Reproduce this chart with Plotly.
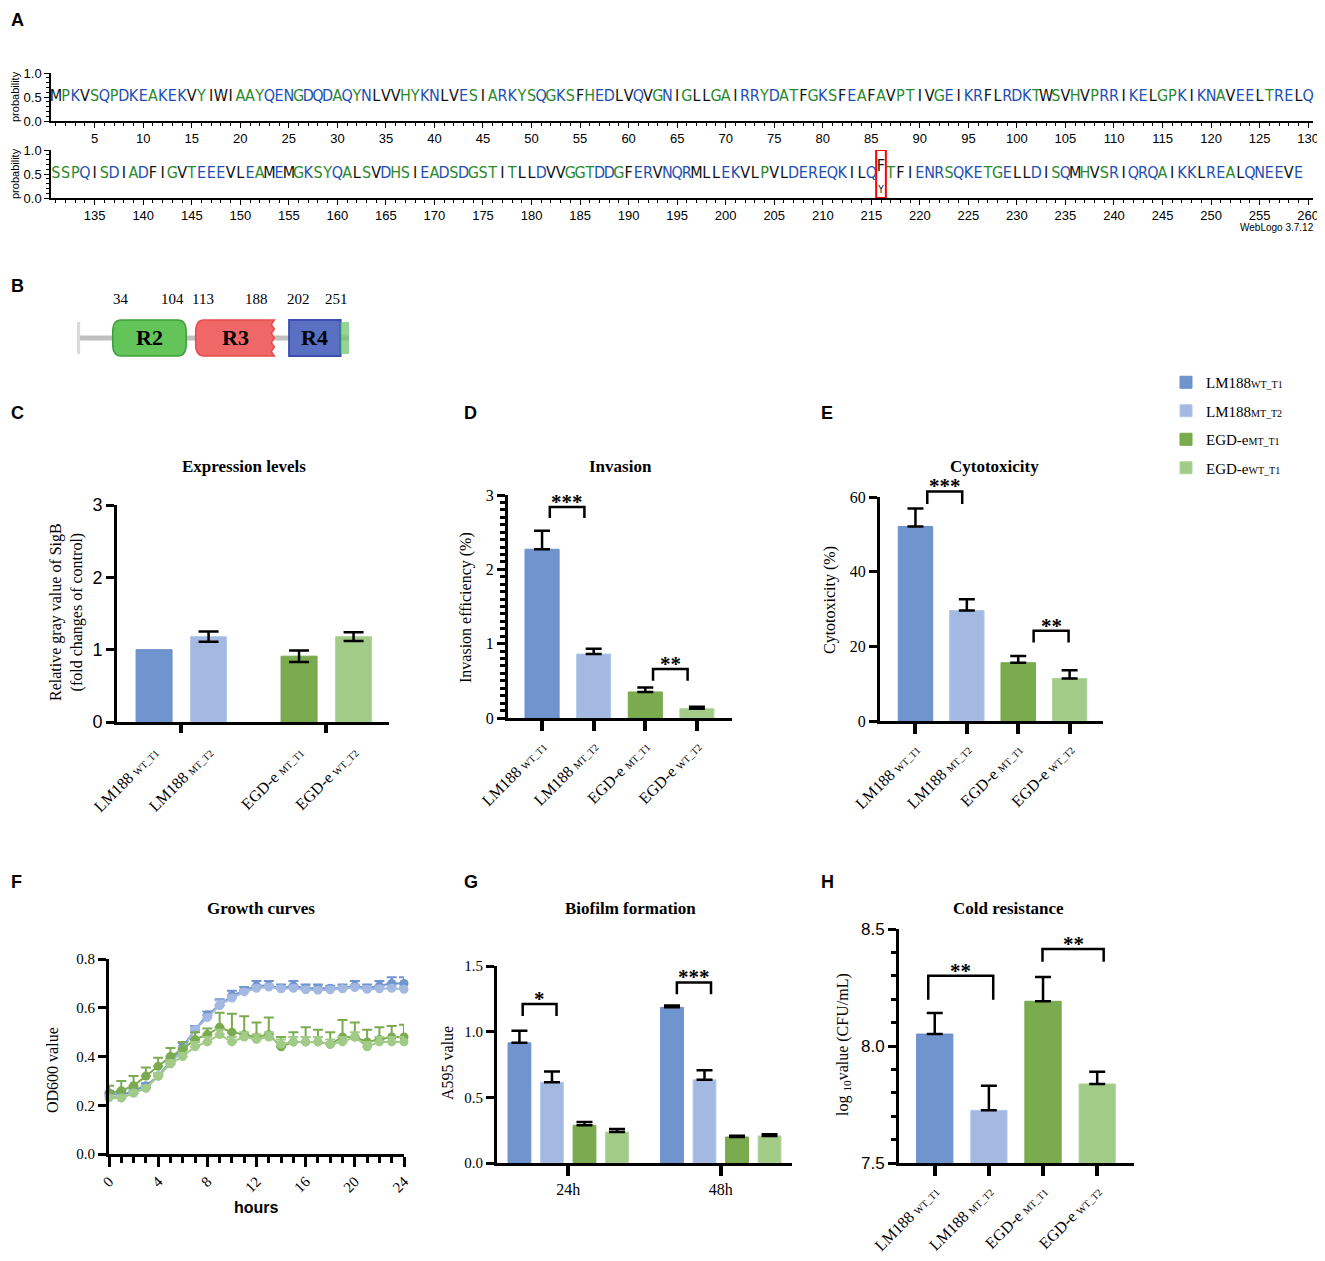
import plotly.graph_objects as go

# the page body adds an 8px margin, so the figure is laid out in reference pixels minus OFF
REF_W, REF_H, OFF = 1325, 1261, 8
W, H = REF_W - OFF, REF_H - OFF
SERIF = "Liberation Serif, Times New Roman, serif"
SANS = "Liberation Sans, Arial, sans-serif"
NARROW = "Liberation Sans Narrow, DejaVu Sans Condensed, Arial Narrow, sans-serif"

# ---------------- data ----------------
seq_row1 = ("MPKVSQPDKEAKEKVYIWIAAYQENGDQDAQYNLVVHYKNLVESIARKYSQGKSFHEDLV"
            "QVGNIGLLGAIRRYDATFGKSFEAFAVPTIVGEIKRFLRDKTWSVHVPRRIKELGPKIKN"
            "AVEELTRELQ")
seq_row2 = ("SSPQISDIADFIGVTEEEVLEAMEMGKSYQALSVDHSIEADSDGSTITLLDVVGGTDDGF"
            "ERVNQRMLLEKVLPVLDEREQKILQFTFIENRSQKETGELLDISQMHVSRIQRQAIKKLR"
            "EALQNEEVE")
variant_pos = 216
variant_letters = ["F", "Y"]
variant_probs = [0.7, 0.3]

domain_names = ["R2", "R3", "R4"]
domain_start = [34, 113, 202]
domain_end = [104, 188, 251]
protein_len = 259

strains = ["LM188", "LM188", "EGD-e", "EGD-e"]
strain_tags = ["WT_T1", "MT_T2", "MT_T1", "WT_T2"]
legend_tags = ["WT_T1", "MT_T2", "MT_T1", "WT_T1"]

expr_mean = [1.00, 1.18, 0.91, 1.18]
expr_err = [None, 0.07, 0.08, 0.06]

inv_mean = [2.27, 0.86, 0.35, 0.125]
inv_err = [0.25, 0.07, 0.06, 0.025]
inv_sig = [(0, 1, "***"), (2, 3, "**")]

cyto_mean = [52.1, 29.6, 15.6, 11.4]
cyto_err = [4.8, 3.0, 1.8, 2.2]
cyto_sig = [(0, 1, "***"), (2, 3, "**")]

hours = list(range(25))
od_lm_wt = [0.25, 0.24, 0.26, 0.28, 0.32, 0.38, 0.44, 0.51, 0.57, 0.61, 0.65, 0.67, 0.69,
            0.69, 0.68, 0.69, 0.68, 0.68, 0.68, 0.68, 0.69, 0.68, 0.69, 0.70, 0.70]
od_lm_wt_err = [0.01, 0.01, 0.01, 0.01, 0.01, 0.01, 0.015, 0.015, 0.015, 0.025, 0.02, 0.015, 0.02,
                0.02, 0.015, 0.02, 0.015, 0.015, 0.01, 0.015, 0.02, 0.015, 0.02, 0.025, 0.025]
od_lm_mt = [0.24, 0.23, 0.25, 0.27, 0.32, 0.37, 0.43, 0.51, 0.56, 0.61, 0.64, 0.665, 0.68,
            0.685, 0.678, 0.68, 0.674, 0.672, 0.674, 0.678, 0.683, 0.676, 0.678, 0.68, 0.676]
od_lm_mt_err = [0.01, 0.01, 0.01, 0.01, 0.01, 0.01, 0.01, 0.01, 0.01, 0.02, 0.01, 0.01, 0.01,
                0.01, 0.01, 0.01, 0.01, 0.01, 0.01, 0.01, 0.01, 0.01, 0.01, 0.01, 0.01]
od_egd_mt = [0.25, 0.26, 0.28, 0.32, 0.36, 0.40, 0.43, 0.47, 0.49, 0.52, 0.50, 0.49, 0.48,
             0.49, 0.44, 0.46, 0.46, 0.46, 0.45, 0.48, 0.48, 0.46, 0.47, 0.48, 0.48]
od_egd_mt_err = [0.03, 0.04, 0.04, 0.035, 0.035, 0.035, 0.03, 0.03, 0.025, 0.06, 0.075, 0.075, 0.06,
                 0.07, 0.04, 0.04, 0.06, 0.05, 0.05, 0.07, 0.06, 0.05, 0.05, 0.045, 0.05]
od_egd_wt = [0.23, 0.23, 0.25, 0.27, 0.32, 0.37, 0.40, 0.44, 0.46, 0.49, 0.46, 0.48, 0.47,
             0.48, 0.45, 0.46, 0.46, 0.46, 0.45, 0.46, 0.48, 0.44, 0.46, 0.46, 0.46]
od_egd_wt_err = [0.01, 0.01, 0.01, 0.01, 0.01, 0.015, 0.015, 0.02, 0.02, 0.02, 0.02, 0.02, 0.02,
                 0.02, 0.02, 0.02, 0.02, 0.02, 0.02, 0.02, 0.02, 0.02, 0.02, 0.02, 0.02]

bio_times = ["24h", "48h"]
bio_24h_mean = [0.915, 0.615, 0.287, 0.236]
bio_24h_err = [0.092, 0.082, 0.026, 0.023]
bio_48h_mean = [1.185, 0.633, 0.198, 0.206]
bio_48h_err = [0.015, 0.074, 0.010, 0.013]
bio_sig = [(0, 1, "*"), (4, 5, "***")]

cold_mean = [8.051, 7.725, 8.191, 7.838]
cold_err = [0.09, 0.105, 0.104, 0.052]
cold_sig = [(0, 1, "**"), (2, 3, "**")]

# ---------------- style ----------------
colors = ["#7094cd", "#a3b9e1", "#7aab4f", "#a1cb87"]
edge = ["#6a8fcb", "#b3c7ea", "#74a64a", "#b0d69a"]
aa_black, aa_green = set("ILFMWV"), set("GSTAPHY")


def aa_colour(a):
    if a in aa_black:
        return "#111111"
    return "#2a8a2a" if a in aa_green else "#1f4fb4"


def px(x):
    return (x - OFF) / W


def py(y):
    return 1 - (y - OFF) / H


def xd(a, b):
    return [px(a), px(b)]


def yd(top, bottom):
    return [py(bottom), py(top)]


def axis(**kw):
    base = dict(showline=True, linewidth=3, linecolor="black", ticks="outside", tickwidth=3,
                ticklen=8, tickcolor="black", showgrid=False, zeroline=False, automargin=False,
                tickfont=dict(family=SERIF, size=16, color="black"))
    base.update(kw)
    return base


def tag(name, t, space=" "):
    return f"{name}{space}<span style='font-size:10px'>{t}</span>"


def label(text, x, y, size, family, angle=0, xanchor="center", color="black"):
    return dict(text=text, x=px(x), y=py(y), xref="paper", yref="paper", xanchor=xanchor,
                yanchor="middle", textangle=angle, showarrow=False,
                font=dict(family=family, size=size, color=color))


# pixel boxes and ranges of the bar panels, used to place brackets outside the clip area
panels = {
    5: dict(x=(508, 732), xr=(-0.66, 3.68), y=(495, 718), yr=(0, 3)),
    6: dict(x=(880, 1103), xr=(-0.69, 3.65), y=(497, 721), yr=(0, 60)),
    8: dict(x=(497, 792), xr=(-0.69, 8.38), y=(966, 1163), yr=(0, 1.5)),
    9: dict(x=(899, 1134), xr=(-0.66, 3.68), y=(929, 1163), yr=(7.5, 8.5)),
}


def to_paper(n, xv, yv):
    p = panels[n]
    xp = p["x"][0] + (xv - p["xr"][0]) / (p["xr"][1] - p["xr"][0]) * (p["x"][1] - p["x"][0])
    yp = p["y"][1] - (yv - p["yr"][0]) / (p["yr"][1] - p["yr"][0]) * (p["y"][1] - p["y"][0])
    return px(xp), py(yp)


fig = go.Figure()
annotations = []
shapes = []

# ---------------- A: sequence logo ----------------
rows = [(seq_row1, 1, "x", "y"), (seq_row2, 131, "x2", "y2")]
for seq, start, xa, ya in rows:
    pos = [start + i for i in range(len(seq)) if start + i != variant_pos]
    let = [seq[i] for i in range(len(seq)) if start + i != variant_pos]
    fig.add_trace(go.Scatter(
        x=pos, y=[0.5] * len(pos), text=let, mode="text", xaxis=xa, yaxis=ya,
        textfont=dict(family=NARROW, size=16, color=[aa_colour(a) for a in let]),
        showlegend=False, hoverinfo="skip", cliponaxis=False))

stack_y, base = [], 0.0
for p in variant_probs[::-1]:
    stack_y.append(base + p / 2)
    base += p
fig.add_trace(go.Scatter(
    x=[variant_pos] * 2, y=stack_y[::-1], text=variant_letters, mode="text",
    xaxis="x2", yaxis="y2",
    textfont=dict(family=NARROW, size=[16, 10], color="#111111"),
    showlegend=False, hoverinfo="skip", cliponaxis=False))
shapes.append(dict(type="rect", xref="x2", yref="y2", x0=variant_pos - 0.5, x1=variant_pos + 0.5,
                   y0=0, y1=1.0, line=dict(color="red", width=2)))

logo_axis = dict(showline=True, linewidth=1.5, linecolor="black", ticks="outside", tickwidth=1.2,
                 ticklen=5, tickcolor="black", showgrid=False, zeroline=False, automargin=False,
                 tickfont=dict(family=SANS, size=13, color="black"))
logo_minor_x = dict(dtick=1, tick0=0, ticks="outside", ticklen=3, tickwidth=1, tickcolor="black")
logo_minor_y = dict(dtick=0.1, ticks="outside", ticklen=3, tickwidth=1, tickcolor="black")
fig.update_layout(
    xaxis=dict(logo_axis, domain=xd(51, 1313), range=[0.5, 130.5], anchor="y",
               tickvals=list(range(5, 131, 5)), minor=logo_minor_x),
    yaxis=dict(logo_axis, domain=yd(73, 121), range=[0, 1], anchor="x",
               tickvals=[0, 0.5, 1], tickformat=".1f", minor=logo_minor_y),
    xaxis2=dict(logo_axis, domain=xd(51, 1313), range=[130.5, 260.5], anchor="y2",
                tickvals=list(range(135, 261, 5)), minor=logo_minor_x),
    yaxis2=dict(logo_axis, domain=yd(150, 198), range=[0, 1], anchor="x2",
                tickvals=[0, 0.5, 1], tickformat=".1f", minor=logo_minor_y),
)
for yc in (97, 174):
    annotations.append(label("probability", 15, yc, 11, SANS, angle=-90))
annotations.append(label("WebLogo 3.7.12", 1316, 227, 10, SANS, xanchor="right"))

# ---------------- B: domain diagram ----------------
fig.add_trace(go.Scatter(x=[1, protein_len], y=[0.5, 0.5], mode="lines", xaxis="x10", yaxis="y10",
                         line=dict(color="#bfbfbf", width=5), showlegend=False, hoverinfo="skip"))


def box_path(x0, x1, y0, y1, rx, ry, torn=False):
    p = f"M {x0 + rx},{y0} "
    if not torn:
        p += (f"L {x1 - rx},{y0} Q {x1},{y0} {x1},{y0 + ry} L {x1},{y1 - ry} "
              f"Q {x1},{y1} {x1 - rx},{y1} ")
    else:
        p += f"L {x1},{y0} "
        n = 8
        for k in range(1, n + 1):
            yy = y0 + (y1 - y0) * k / n
            xx = x1 - 3 if k % 2 else x1
            p += f"L {xx},{yy} "
    p += f"L {x0 + rx},{y1} Q {x0},{y1} {x0},{y1 - ry} L {x0},{y0 + ry} Q {x0},{y0} {x0 + rx},{y0} Z"
    return p


b_x0, b_scale = 77, 1.05     # reference pixel of residue 0, pixels per residue
num_shift = [(8, -14), (7, -18), (9, -4)]   # pixel nudges of the start / end numbers
box_style = [("#63c45a", "#3f9f3a"), ("#f06767", "#e84b4b"), ("#5a70c2", "#3a4fb0")]
shapes.append(dict(type="rect", xref="x10", yref="y10", x0=0, x1=3, y0=0.1, y1=0.9,
                   fillcolor="#d9d9d9", line=dict(width=0)))
for i, nm in enumerate(domain_names):
    fill, line = box_style[i]
    if nm == "R4":
        shapes.append(dict(type="rect", xref="x10", yref="y10", x0=domain_start[i], x1=domain_end[i],
                           y0=0.05, y1=0.95, fillcolor=fill, line=dict(color=line, width=2)))
    else:
        shapes.append(dict(type="path", xref="x10", yref="y10",
                           path=box_path(domain_start[i], domain_end[i], 0.05, 0.95, 8, 0.3,
                                         torn=(nm == "R3")),
                           fillcolor=fill, line=dict(color=line, width=1.5)))
    annotations.append(dict(text=f"<b>{nm}</b>", x=(domain_start[i] + domain_end[i]) / 2, y=0.5,
                            xref="x10", yref="y10", xanchor="center", yanchor="middle",
                            showarrow=False, font=dict(family=SERIF, size=22, color="black")))
    for val, sh in zip((domain_start[i], domain_end[i]), num_shift[i]):
        annotations.append(label(str(val), b_x0 + b_scale * val + sh, 299, 15, SERIF))
shapes.append(dict(type="rect", xref="x10", yref="y10", x0=domain_end[-1], x1=protein_len,
                   y0=0.1, y1=0.9, fillcolor="rgba(110,200,110,0.75)", line=dict(width=0)))
fig.update_layout(
    xaxis10=dict(domain=xd(b_x0, b_x0 + b_scale * 270), range=[0, 270], visible=False,
                 anchor="y10", automargin=False),
    yaxis10=dict(domain=yd(318, 358), range=[0, 1], visible=False, anchor="x10", automargin=False),
)

# ---------------- C: expression ----------------
c_pos = [0, 1, 2.66, 3.66]
for i in range(4):
    err = None
    if expr_err[i] is not None:
        err = dict(type="data", array=[expr_err[i]], symmetric=True, color="black",
                   thickness=2.5, width=10)
    fig.add_trace(go.Bar(
        x=[c_pos[i]], y=[expr_mean[i]], width=0.66, xaxis="x3", yaxis="y3",
        marker=dict(color=colors[i], line=dict(color=edge[i], width=1)),
        error_y=err, name=tag(strains[i], legend_tags[i], ""), legendgroup=f"g{i}",
        showlegend=True))
fig.add_trace(go.Scatter(x=[], y=[], xaxis="x4", yaxis="y3", showlegend=False, hoverinfo="skip"))
group_centres = [(c_pos[0] + c_pos[1]) / 2, (c_pos[2] + c_pos[3]) / 2]
c_range = [-0.68, 4.31]
fig.update_layout(
    xaxis3=axis(domain=xd(117, 389), range=c_range, anchor="y3", tickvals=c_pos,
                ticktext=[tag(s, t) for s, t in zip(strains, strain_tags)], tickangle=-45,
                tickcolor="rgba(0,0,0,0)", ticklen=12),
    xaxis4=dict(overlaying="x3", anchor="y3", side="bottom", range=c_range, tickvals=group_centres,
                ticks="outside", ticklen=10, tickwidth=4, tickcolor="black", showticklabels=False,
                showline=False, showgrid=False, zeroline=False, automargin=False),
    yaxis3=axis(domain=yd(505, 722), range=[0, 3], anchor="x3", tickvals=[0, 1, 2, 3],
                tickfont=dict(family=SANS, size=18, color="black")),
)


# ---------------- bar panel helper ----------------
def bar_panel(n, pos, mean, err, sig, brackets, width):
    fig.add_trace(go.Bar(
        x=pos, y=mean, width=width, xaxis=f"x{n}", yaxis=f"y{n}",
        marker=dict(color=colors * (len(pos) // 4), line=dict(color=edge * (len(pos) // 4), width=1)),
        error_y=dict(type="data", array=err, arrayminus=[0] * len(err), symmetric=False,
                     color="black", thickness=2.5, width=8),
        showlegend=False))
    for (i, j, stars), (top, leg, off_i, off_j) in zip(sig, brackets):
        xa, ya0 = to_paper(n, pos[i] + off_i, leg)
        xb, ya1 = to_paper(n, pos[j] + off_j, top)
        shapes.append(dict(type="path", xref="paper", yref="paper",
                           path=f"M {xa},{ya0} L {xa},{ya1} L {xb},{ya1} L {xb},{ya0}",
                           line=dict(color="black", width=2.5)))
        annotations.append(dict(text=f"<b>{stars}</b>", x=(xa + xb) / 2, y=ya1, xref="paper",
                                yref="paper", xanchor="center", yanchor="bottom", yshift=-9,
                                showarrow=False, font=dict(family=SERIF, size=21, color="black")))


bar_pos = [0, 1, 2, 3]
bar_labels = [tag(s, t) for s, t in zip(strains, strain_tags)]


def px_axes(n):
    p = panels[n]
    return xd(*p["x"]), list(p["xr"]), yd(*p["y"]), list(p["yr"])


# D: invasion
bar_panel(5, bar_pos, inv_mean, inv_err, inv_sig,
          [(2.84, 2.69, 0.15, -0.18), (0.66, 0.50, 0.15, -0.18)], 0.66)
dx_, rx_, dy_, ry_ = px_axes(5)
fig.update_layout(
    xaxis5=axis(domain=dx_, range=rx_, anchor="y5", tickvals=bar_pos,
                ticktext=bar_labels, tickangle=-45, ticklen=10, tickwidth=4),
    yaxis5=axis(domain=dy_, range=ry_, anchor="x5", tickvals=[0, 1, 2, 3],
                minor=dict(dtick=0.1, tick0=0, ticks="outside", ticklen=5, tickwidth=3, tickcolor="black")),
)

# E: cytotoxicity
bar_panel(6, bar_pos, cyto_mean, cyto_err, cyto_sig,
          [(61.5, 58.1, 0.23, -0.09), (24.2, 21.0, 0.30, -0.02)], 0.67)
dx_, rx_, dy_, ry_ = px_axes(6)
fig.update_layout(
    xaxis6=axis(domain=dx_, range=rx_, anchor="y6", tickvals=bar_pos,
                ticktext=bar_labels, tickangle=-45, ticklen=10, tickwidth=4),
    yaxis6=axis(domain=dy_, range=ry_, anchor="x6", tickvals=[0, 20, 40, 60]),
)

# G: biofilm
g_pos = [0, 1, 2, 3, 4.69, 5.69, 6.69, 7.69]
bar_panel(8, g_pos, bio_24h_mean + bio_48h_mean, bio_24h_err + bio_48h_err, bio_sig,
          [(1.21, 1.12, 0.10, 0.14), (1.375, 1.284, 0.15, 0.20)], 0.7)
dx_, rx_, dy_, ry_ = px_axes(8)
fig.update_layout(
    xaxis8=axis(domain=dx_, range=rx_, anchor="y8",
                tickvals=[sum(g_pos[:4]) / 4, sum(g_pos[4:]) / 4], ticktext=bio_times,
                ticklen=10, tickwidth=4),
    yaxis8=axis(domain=dy_, range=ry_, anchor="x8", tickvals=[0, 0.5, 1.0, 1.5],
                tickformat=".1f", tickfont=dict(family=SERIF, size=15, color="black")),
)

# H: cold resistance
bar_panel(9, bar_pos, cold_mean, cold_err, cold_sig,
          [(8.30, 8.198, -0.12, 0.08), (8.414, 8.36, -0.01, 0.12)], 0.67)
dx_, rx_, dy_, ry_ = px_axes(9)
fig.update_layout(
    xaxis9=axis(domain=dx_, range=rx_, anchor="y9", tickvals=bar_pos,
                ticktext=bar_labels, tickangle=-45, ticklen=10, tickwidth=4),
    yaxis9=axis(domain=dy_, range=ry_, anchor="x9", tickvals=[7.5, 8.0, 8.5],
                tickformat=".1f", tickfont=dict(family=SANS, size=17, color="black"),
                minor=dict(dtick=0.1, tick0=7.5, ticks="outside", ticklen=5, tickwidth=3, tickcolor="black")),
)

# ---------------- F: growth curves ----------------
curves = [(od_lm_wt, od_lm_wt_err), (od_lm_mt, od_lm_mt_err),
          (od_egd_mt, od_egd_mt_err), (od_egd_wt, od_egd_wt_err)]
for k, (vals, errs) in enumerate(curves):
    fig.add_trace(go.Scatter(
        x=hours, y=vals, mode="lines+markers", xaxis="x7", yaxis="y7",
        line=dict(color=colors[k], width=2), marker=dict(color=colors[k], size=9),
        error_y=dict(type="data", array=errs, arrayminus=[0] * len(errs), symmetric=False,
                     color=colors[k], thickness=2, width=5),
        showlegend=False, cliponaxis=False))
fig.update_layout(
    xaxis7=axis(domain=xd(109, 404), range=[0, 24], anchor="y7", tickvals=list(range(0, 25, 4)),
                tickangle=-45, ticklen=10, tickfont=dict(family=SERIF, size=15, color="black"),
                minor=dict(dtick=1, tick0=0, ticks="outside", ticklen=6, tickwidth=3, tickcolor="black")),
    yaxis7=axis(domain=yd(959, 1154), range=[0, 0.8], anchor="x7", tickvals=[0, 0.2, 0.4, 0.6, 0.8],
                tickformat=".1f", tickfont=dict(family=SERIF, size=15, color="black")),
)

# ---------------- text: panel letters, titles, axis titles ----------------
for letter, xp, yp in [("A", 9, 20), ("B", 9, 286), ("C", 9, 413), ("D", 462, 413),
                       ("E", 819, 413), ("F", 9, 882), ("G", 462, 882), ("H", 819, 882)]:
    annotations.append(label(f"<b>{letter}</b>", xp, yp, 18, SANS, xanchor="left"))

for title, xp, yp in [("Expression levels", 244, 466), ("Invasion", 620, 467),
                      ("Cytotoxicity", 994, 466), ("Growth curves", 261, 909),
                      ("Biofilm formation", 630, 908), ("Cold resistance", 1008, 908)]:
    annotations.append(label(f"<b>{title}</b>", xp, yp, 17, SERIF))

for text, xp, yp in [("Relative gray value of SigB<br>(fold changes of control)", 66, 612),
                     ("Invasion efficiency (%)", 466, 608), ("Cytotoxicity (%)", 830, 600),
                     ("OD600 value", 52, 1070), ("A595 value", 447, 1063),
                     ("log <sub>10</sub>value (CFU/mL)", 843, 1045)]:
    annotations.append(label(text, xp, yp, 16, SERIF, angle=-90))
annotations.append(label("<b>hours</b>", 256, 1207, 16, SANS))

fig.update_layout(
    width=W, height=H, margin=dict(l=0, r=0, t=0, b=0, autoexpand=False),
    paper_bgcolor="white", plot_bgcolor="white",
    annotations=annotations, shapes=shapes, barmode="overlay",
    legend=dict(x=px(1166), y=py(366), xanchor="left", yanchor="top",
                font=dict(family=SERIF, size=15, color="black"), tracegroupgap=6,
                bgcolor="rgba(0,0,0,0)", itemwidth=30),
)

fig.write_html("out.html")
